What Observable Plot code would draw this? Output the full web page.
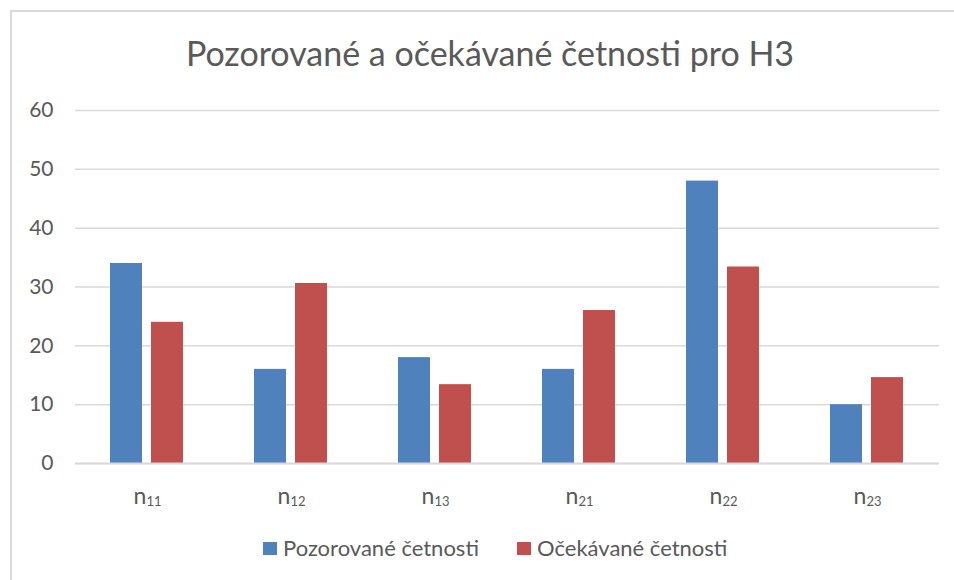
<!DOCTYPE html>
<html>
<head>
<meta charset="utf-8">
<script src="https://cdn.jsdelivr.net/npm/d3@7"></script>
<script src="https://cdn.jsdelivr.net/npm/@observablehq/plot@0.6"></script>
<style>
  html, body { margin: 0; padding: 0; background: #fff; overflow: hidden; width: 954px; height: 580px; }
  body { position: relative; font-family: Lato, "Open Sans", sans-serif; color: #595959; }
  #frame { position: absolute; left: 10px; top: 10px; width: 1000px; height: 620px; border: 2px solid #d9d9d9; box-sizing: border-box; }
  #title { position: absolute; left: 0; width: 980px; top: 32px; text-align: center; font-size: 34px; line-height: 42px; color: #595959; white-space: nowrap; }
  #chart { position: absolute; left: 0; top: 90px; }
  #legend { position: absolute; top: 533px; left: 263px; font-size: 22px; line-height: 30px; color: #595959; white-space: nowrap; }
  .item { position: absolute; top: 0; display: flex; align-items: center; }
  .sw { width: 14px; height: 13px; margin-right: 6px; }
</style>
</head>
<body>
<div id="frame"></div>
<div id="title">Pozorované a očekávané četnosti pro H3</div>
<div id="chart"></div>
<div id="legend"></div>
<script>
const categories = ["n11", "n12", "n13", "n21", "n22", "n23"];
const observed = [34, 16, 18, 16, 48, 10];
const expected = [24, 30.6, 13.4, 26, 33.4, 14.6];
const seriesNames = ["Pozorované četnosti", "Očekávané četnosti"];
const seriesColors = ["#4F81BD", "#C0504D"];
const yTicks = [0, 10, 20, 30, 40, 50, 60];

const rows = [];
categories.forEach((c, i) => {
  rows.push({cat: c, series: seriesNames[0], value: observed[i]});
  rows.push({cat: c, series: seriesNames[1], value: expected[i]});
});

const plot = Plot.plot({
  width: 954,
  height: 430,
  marginTop: 20,
  marginBottom: 57,
  marginLeft: 74,
  marginRight: 14,
  style: {fontFamily: "Lato, 'Open Sans', sans-serif", color: "#595959", background: "transparent"},
  fx: {domain: categories, padding: 0, label: null},
  x: {domain: seriesNames, paddingInner: 0.21, paddingOuter: 0.86, axis: null},
  y: {domain: [0, 60], ticks: yTicks, label: null},
  color: {domain: seriesNames, range: seriesColors},
  marks: [
    Plot.gridY(yTicks, {stroke: "#d9d9d9", strokeOpacity: 1, strokeWidth: 1.5}),
    Plot.barY(rows, {fx: "cat", x: "series", y: "value", fill: "series"}),
    Plot.ruleY([0], {stroke: "#d9d9d9", strokeWidth: 2}),
    Plot.axisY(yTicks, {tickSize: 0, tickPadding: 22, fontSize: 21, fill: "#595959", label: null}),
    Plot.axisFx({anchor: "bottom", tickSize: 0, tickPadding: 24, fontSize: 23, fill: "#595959", label: null})
  ]
});
document.getElementById("chart").appendChild(plot);

// Render subscripts in category labels: "n11" -> n + subscript "11"
d3.select(plot).selectAll('g[aria-label="fx-axis tick label"] text').each(function() {
  const t = d3.select(this);
  const s = t.text();
  t.text(null);
  t.append("tspan").text(s.charAt(0));
  t.append("tspan").attr("font-size", 13).attr("dy", "0.18em").text(s.slice(1));
});

const legend = document.getElementById("legend");
const lefts = [0, 254];
seriesNames.forEach((name, i) => {
  const it = document.createElement("div");
  it.className = "item";
  it.style.left = lefts[i] + "px";
  const sw = document.createElement("span");
  sw.className = "sw";
  sw.style.background = seriesColors[i];
  const tx = document.createElement("span");
  tx.textContent = name;
  it.appendChild(sw);
  it.appendChild(tx);
  legend.appendChild(it);
});
</script>
</body>
</html>
